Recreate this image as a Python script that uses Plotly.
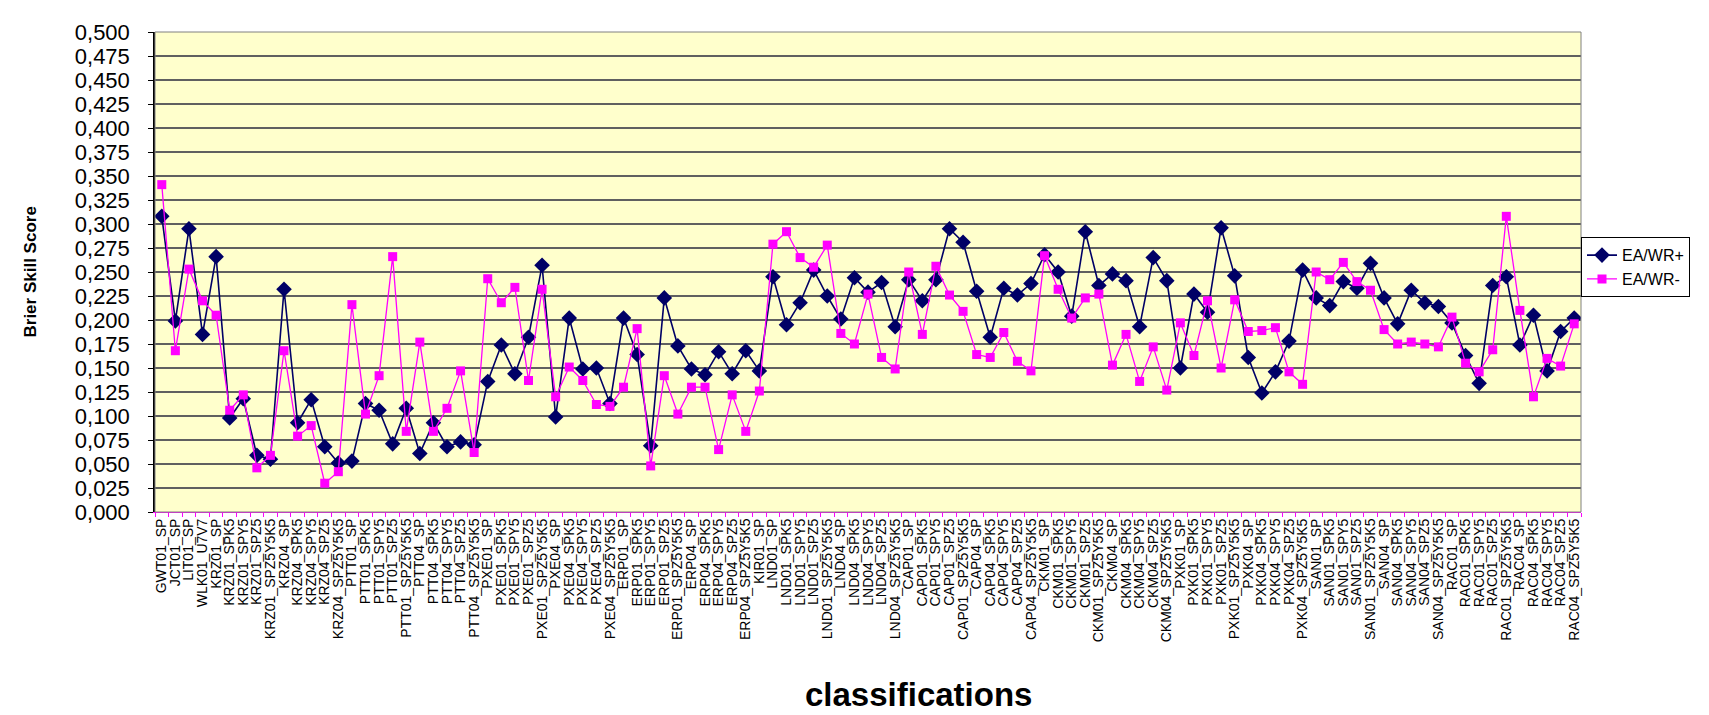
import plotly.graph_objects as go

categories = [
    "GWT01_SP", "JCT01_SP", "LIT01_SP", "WLK01_U7V7",
    "KRZ01_SP", "KRZ01_SPK5", "KRZ01_SPY5", "KRZ01_SPZ5", "KRZ01_SPZ5Y5K5",
    "KRZ04_SP", "KRZ04_SPK5", "KRZ04_SPY5", "KRZ04_SPZ5", "KRZ04_SPZ5Y5K5",
    "PTT01_SP", "PTT01_SPK5", "PTT01_SPY5", "PTT01_SPZ5", "PTT01_SPZ5Y5K5",
    "PTT04_SP", "PTT04_SPK5", "PTT04_SPY5", "PTT04_SPZ5", "PTT04_SPZ5Y5K5",
    "PXE01_SP", "PXE01_SPK5", "PXE01_SPY5", "PXE01_SPZ5", "PXE01_SPZ5Y5K5",
    "PXE04_SP", "PXE04_SPK5", "PXE04_SPY5", "PXE04_SPZ5", "PXE04_SPZ5Y5K5",
    "ERP01_SP", "ERP01_SPK5", "ERP01_SPY5", "ERP01_SPZ5", "ERP01_SPZ5Y5K5",
    "ERP04_SP", "ERP04_SPK5", "ERP04_SPY5", "ERP04_SPZ5", "ERP04_SPZ5Y5K5",
    "KIR01_SP",
    "LND01_SP", "LND01_SPK5", "LND01_SPY5", "LND01_SPZ5", "LND01_SPZ5Y5K5",
    "LND04_SP", "LND04_SPK5", "LND04_SPY5", "LND04_SPZ5", "LND04_SPZ5Y5K5",
    "CAP01_SP", "CAP01_SPK5", "CAP01_SPY5", "CAP01_SPZ5", "CAP01_SPZ5Y5K5",
    "CAP04_SP", "CAP04_SPK5", "CAP04_SPY5", "CAP04_SPZ5", "CAP04_SPZ5Y5K5",
    "CKM01_SP", "CKM01_SPK5", "CKM01_SPY5", "CKM01_SPZ5", "CKM01_SPZ5Y5K5",
    "CKM04_SP", "CKM04_SPK5", "CKM04_SPY5", "CKM04_SPZ5", "CKM04_SPZ5Y5K5",
    "PXK01_SP", "PXK01_SPK5", "PXK01_SPY5", "PXK01_SPZ5", "PXK01_SPZ5Y5K5",
    "PXK04_SP", "PXK04_SPK5", "PXK04_SPY5", "PXK04_SPZ5", "PXK04_SPZ5Y5K5",
    "SAN01_SP", "SAN01_SPK5", "SAN01_SPY5", "SAN01_SPZ5", "SAN01_SPZ5Y5K5",
    "SAN04_SP", "SAN04_SPK5", "SAN04_SPY5", "SAN04_SPZ5", "SAN04_SPZ5Y5K5",
    "RAC01_SP", "RAC01_SPK5", "RAC01_SPY5", "RAC01_SPZ5", "RAC01_SPZ5Y5K5",
    "RAC04_SP", "RAC04_SPK5", "RAC04_SPY5", "RAC04_SPZ5", "RAC04_SPZ5Y5K5",
]

ea_wr_plus = [
    0.308, 0.199, 0.295, 0.185, 0.266, 0.098, 0.118, 0.059, 0.055, 0.232,
    0.093, 0.117, 0.068, 0.051, 0.053, 0.113, 0.106, 0.071, 0.108, 0.061,
    0.093, 0.068, 0.073, 0.070, 0.136, 0.174, 0.144, 0.182, 0.257, 0.099,
    0.202, 0.149, 0.150, 0.113, 0.202, 0.164, 0.069, 0.223, 0.173, 0.149,
    0.143, 0.167, 0.144, 0.168, 0.147, 0.245, 0.195, 0.218, 0.252, 0.225,
    0.201, 0.244, 0.229, 0.239, 0.193, 0.242, 0.220, 0.242, 0.295, 0.281,
    0.230, 0.182, 0.233, 0.226, 0.238, 0.268, 0.250, 0.204, 0.292, 0.236,
    0.248, 0.241, 0.193, 0.265, 0.241, 0.150, 0.227, 0.208, 0.296, 0.246,
    0.161, 0.124, 0.146, 0.178, 0.252, 0.223, 0.215, 0.240, 0.233, 0.259,
    0.223, 0.196, 0.231, 0.218, 0.214, 0.197, 0.163, 0.134, 0.236, 0.245,
    0.174, 0.205, 0.147, 0.188, 0.202,
]

ea_wr_minus = [
    0.341, 0.168, 0.253, 0.220, 0.205, 0.106, 0.122, 0.046, 0.059, 0.168,
    0.079, 0.090, 0.030, 0.042, 0.216, 0.102, 0.142, 0.266, 0.084, 0.177,
    0.084, 0.108, 0.147, 0.062, 0.243, 0.218, 0.234, 0.137, 0.232, 0.120,
    0.151, 0.137, 0.112, 0.110, 0.130, 0.191, 0.048, 0.142, 0.102, 0.130,
    0.130, 0.065, 0.122, 0.084, 0.126, 0.279, 0.292, 0.265, 0.255, 0.278,
    0.186, 0.175, 0.227, 0.161, 0.149, 0.250, 0.185, 0.256, 0.226, 0.209,
    0.164, 0.161, 0.187, 0.157, 0.147, 0.267, 0.232, 0.202, 0.223, 0.227,
    0.153, 0.185, 0.136, 0.172, 0.127, 0.197, 0.163, 0.220, 0.150, 0.221,
    0.188, 0.189, 0.192, 0.146, 0.133, 0.250, 0.242, 0.260, 0.240, 0.231,
    0.190, 0.175, 0.177, 0.175, 0.172, 0.203, 0.155, 0.146, 0.169, 0.308,
    0.210, 0.120, 0.160, 0.152, 0.196,
]

y_ticks = [i * 0.025 for i in range(21)]
dark_grid = [0.025, 0.05, 0.075, 0.1]

NAVY = "#000066"
PINK = "#FF00FF"
FONT = "Liberation Sans, Arial, sans-serif"

fig = go.Figure()
fig.add_trace(go.Scatter(
    x=categories, y=ea_wr_plus, name="EA/WR+", mode="lines+markers",
    line=dict(color=NAVY, width=1.6),
    marker=dict(symbol="diamond", size=12, color=NAVY),
))
fig.add_trace(go.Scatter(
    x=categories, y=ea_wr_minus, name="EA/WR-", mode="lines+markers",
    line=dict(color=PINK, width=1.3),
    marker=dict(symbol="square", size=9, color=PINK),
))

shapes = [
    dict(type="line", xref="paper", yref="y", x0=0, x1=1, y0=v, y1=v,
         line=dict(color="black", width=1.5), layer="below")
    for v in dark_grid
]
shapes.append(dict(type="rect", xref="paper", yref="paper", x0=0, x1=1, y0=0, y1=1,
                   line=dict(color="#808080", width=1), layer="above"))

fig.update_layout(
    width=1709, height=715,
    margin=dict(l=147, r=136, t=24, b=211),
    paper_bgcolor="white",
    plot_bgcolor="#FFFFCC",
    separators=",.",
    font=dict(family=FONT, color="black"),
    showlegend=True,
    legend=dict(
        x=1.0, y=0.51, xanchor="left", yanchor="middle",
        bordercolor="black", borderwidth=1, bgcolor="white",
        font=dict(size=16, family=FONT),
        tracegroupgap=4,
    ),
    shapes=shapes,
    annotations=[
        dict(text="<b>classifications</b>", xref="paper", yref="paper",
             x=0.5355, y=-0.38, xanchor="center", yanchor="middle",
             showarrow=False, font=dict(size=33, family=FONT)),
        dict(text="<b>Brier Skill Score</b>", xref="paper", yref="paper",
             x=-0.088, y=0.5, xanchor="center", yanchor="middle", textangle=-90,
             showarrow=False, font=dict(size=17, family=FONT)),
    ],
)

fig.update_xaxes(
    type="category",
    tickmode="array",
    tickvals=categories,
    ticktext=categories,
    tickangle=-90,
    tickfont=dict(size=14, family=FONT),
    showgrid=False,
    showline=True, linecolor=PINK, linewidth=1,
    ticks="outside", tickcolor=PINK, ticklen=4, tickson="boundaries",
    range=[-0.5, len(categories) - 0.5],
)
fig.update_yaxes(
    range=[0, 0.5],
    tickvals=y_ticks,
    tickformat=".3f",
    tickfont=dict(size=22, family=FONT),
    ticklabelstandoff=14,
    showgrid=True, gridcolor="#606060", gridwidth=1.5,
    showline=True, linecolor="black", linewidth=1.5,
    ticks="outside", tickcolor="black", ticklen=5,
    zeroline=False,
)

fig.write_html("out.html")
